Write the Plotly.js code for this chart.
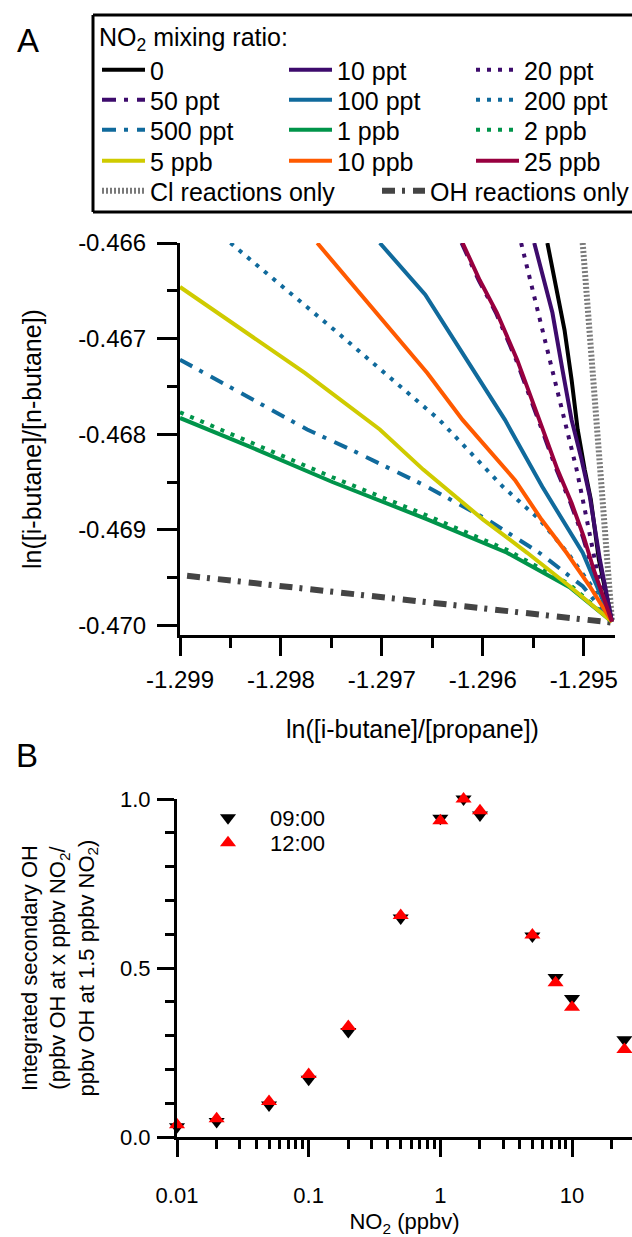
<!DOCTYPE html>
<html>
<head>
<meta charset="utf-8">
<script src="https://cdn.plot.ly/plotly-3.0.1.min.js"></script>
<style>
  html, body { margin: 0; padding: 0; background: #fff; overflow: hidden; }
  #chart { width: 632px; height: 1237px; }
</style>
</head>
<body>
<div id="chart"></div>
<script>
// ---------- Panel A: model runs at different NO2 mixing ratios ----------
// ln([i-butane]/[propane]) (x) and ln([i-butane]/[n-butane]) (y)
const x_0ppt   = [-1.29536, -1.29527, -1.29519, -1.29512, -1.29506, -1.29499, -1.29493, -1.29485, -1.29472];
const y_0ppt   = [-0.46600, -0.46649, -0.46691, -0.46743, -0.46795, -0.46837, -0.46868, -0.46931, -0.46996];
const x_10ppt  = [-1.29549, -1.29539, -1.29531, -1.29521, -1.29512, -1.29502, -1.29494, -1.29484, -1.29472];
const y_10ppt  = [-0.46600, -0.46639, -0.46673, -0.46733, -0.46785, -0.46827, -0.46865, -0.46931, -0.46996];
const x_20ppt  = [-1.29562, -1.29541, -1.29519, -1.29507, -1.29497, -1.29487, -1.29472];
const y_20ppt  = [-0.46600, -0.46691, -0.46785, -0.46837, -0.46889, -0.46942, -0.46996];
const x_50ppt  = [-1.29621, -1.29604, -1.29587, -1.29567, -1.29545, -1.29527, -1.29513, -1.29501, -1.29491, -1.29481, -1.29472];
const y_50ppt  = [-0.46600, -0.46639, -0.46673, -0.46722, -0.46785, -0.46837, -0.46872, -0.46907, -0.46942, -0.46973, -0.46996];
const x_100ppt = [-1.29702, -1.29657, -1.29578, -1.29541, -1.29501, -1.29486, -1.29472];
const y_100ppt = [-0.46600, -0.46654, -0.46785, -0.46855, -0.46924, -0.46962, -0.46996];
const x_200ppt = [-1.29850, -1.29747, -1.29643, -1.29580, -1.29544, -1.29516, -1.29492, -1.29472];
const y_200ppt = [-0.46600, -0.46691, -0.46785, -0.46855, -0.46889, -0.46924, -0.46959, -0.46996];
const x_500ppt = [-1.29900, -1.29774, -1.29725, -1.29655, -1.29596, -1.29544, -1.29501, -1.29472];
const y_500ppt = [-0.46722, -0.46795, -0.46819, -0.46855, -0.46889, -0.46924, -0.46959, -0.46996];
const x_1ppb   = [-1.29900, -1.29831, -1.29749, -1.29655, -1.29576, -1.29514, -1.29472];
const y_1ppb   = [-0.46783, -0.46813, -0.46850, -0.46889, -0.46924, -0.46960, -0.46996];
const x_2ppb   = [-1.29900, -1.29831, -1.29749, -1.29655, -1.29576, -1.29514, -1.29472];
const y_2ppb   = [-0.46777, -0.46808, -0.46845, -0.46885, -0.46921, -0.46957, -0.46996];
const x_5ppb   = [-1.29900, -1.29776, -1.29702, -1.29659, -1.29600, -1.29556, -1.29514, -1.29491, -1.29472];
const y_5ppb   = [-0.46646, -0.46736, -0.46795, -0.46837, -0.46889, -0.46924, -0.46959, -0.46980, -0.46996];
const x_10ppb  = [-1.29764, -1.29719, -1.29655, -1.29620, -1.29568, -1.29542, -1.29517, -1.29494, -1.29472];
const y_10ppb  = [-0.46600, -0.46656, -0.46736, -0.46785, -0.46848, -0.46889, -0.46924, -0.46959, -0.46996];
const x_25ppb  = [-1.29620, -1.29603, -1.29586, -1.29566, -1.29544, -1.29526, -1.29512, -1.29500, -1.29490, -1.29480, -1.29472];
const y_25ppb  = [-0.46600, -0.46639, -0.46673, -0.46722, -0.46785, -0.46837, -0.46872, -0.46907, -0.46942, -0.46973, -0.46996];
const x_clOnly = [-1.29501, -1.29486, -1.29472];
const y_clOnly = [-0.46600, -0.46795, -0.46996];
const x_ohOnly = [-1.29893, -1.29665, -1.29472];
const y_ohOnly = [-0.46948, -0.46975, -0.46997];

const tickA_x_vals = [-1.299, -1.298, -1.297, -1.296, -1.295];
const tickA_x_text = ['-1.299', '-1.298', '-1.297', '-1.296', '-1.295'];
const tickA_y_vals = [-0.466, -0.467, -0.468, -0.469, -0.470];
const tickA_y_text = ['-0.466', '-0.467', '-0.468', '-0.469', '-0.470'];

// ---------- Panel B: integrated secondary OH vs NO2 ----------
const no2_ppbv = [0.01, 0.02, 0.05, 0.1, 0.2, 0.5, 1, 1.5, 2, 5, 7.5, 10, 25];
const oh_0900  = [0.030, 0.046, 0.095, 0.171, 0.312, 0.648, 0.943, 1.000, 0.953, 0.595, 0.472, 0.410, 0.288];
const oh_1200  = [0.036, 0.054, 0.105, 0.185, 0.327, 0.655, 0.936, 1.000, 0.965, 0.598, 0.456, 0.384, 0.259];

const tickB_x_vals = [0.01, 0.1, 1, 10];
const tickB_x_text = ['0.01', '0.1', '1', '10'];
const tickB_y_vals = [0, 0.5, 1];
const tickB_y_text = ['0.0', '0.5', '1.0'];

// ---------- helpers ----------
const W = 632, H = 1237;
const fx = p => p / W;        // pixel column -> paper fraction
const fy = p => 1 - p / H;    // pixel row -> paper fraction
const FONT = 'Arial, "Liberation Sans", sans-serif';

const PURPLE = '#3d0b6c', BLUE = '#106a9c', GREEN = '#00944a',
      YELLOW = '#cfcb00', ORANGE = '#ff5a00', MAROON = '#98003f';
const DOT = '4px,7px', DASHDOT = '14px,8px,4px,9px';

// key layout: entries sit on a 187 px grid; the last entry of a row is kept
// narrow so the row never runs past the page edge
const COL = 129, LAST = 100;

// drawing order: reference cases underneath, then the NO2 runs
const runs = [
  {name: 'Cl reactions only', x: x_clOnly, y: y_clOnly, color: '#7a7a7a', width: 6, dash: '2px,2px', legend: 'legend5', lw: 222},
  {name: 'OH reactions only', x: x_ohOnly, y: y_ohOnly, color: '#444444', width: 6, dash: '13px,7px,3px,8px', legend: 'legend5', lw: 198},
  {name: '0',       x: x_0ppt,   y: y_0ppt,   color: '#000000', width: 4, dash: 'solid', legend: 'legend',  lw: COL},
  {name: '10 ppt',  x: x_10ppt,  y: y_10ppt,  color: PURPLE, width: 4, dash: 'solid', legend: 'legend',  lw: COL},
  {name: '20 ppt',  x: x_20ppt,  y: y_20ppt,  color: PURPLE, width: 4, dash: DOT,     legend: 'legend',  lw: LAST},
  {name: '50 ppt',  x: x_50ppt,  y: y_50ppt,  color: PURPLE, width: 4, dash: DASHDOT, legend: 'legend2', lw: COL},
  {name: '100 ppt', x: x_100ppt, y: y_100ppt, color: BLUE,   width: 4, dash: 'solid', legend: 'legend2', lw: COL},
  {name: '200 ppt', x: x_200ppt, y: y_200ppt, color: BLUE,   width: 4, dash: DOT,     legend: 'legend2', lw: LAST},
  {name: '500 ppt', x: x_500ppt, y: y_500ppt, color: BLUE,   width: 4, dash: DASHDOT, legend: 'legend3', lw: COL},
  {name: '1 ppb',   x: x_1ppb,   y: y_1ppb,   color: GREEN,  width: 4, dash: 'solid', legend: 'legend3', lw: COL},
  {name: '2 ppb',   x: x_2ppb,   y: y_2ppb,   color: GREEN,  width: 4, dash: DOT,     legend: 'legend3', lw: LAST},
  {name: '5 ppb',   x: x_5ppb,   y: y_5ppb,   color: YELLOW, width: 4, dash: 'solid', legend: 'legend4', lw: COL},
  {name: '10 ppb',  x: x_10ppb,  y: y_10ppb,  color: ORANGE, width: 4, dash: 'solid', legend: 'legend4', lw: COL},
  {name: '25 ppb',  x: x_25ppb,  y: y_25ppb,  color: MAROON, width: 4, dash: 'solid', legend: 'legend4', lw: LAST}
];

const data = runs.map(r => ({
  type: 'scatter', mode: 'lines', name: r.name, x: r.x, y: r.y,
  xaxis: 'x', yaxis: 'y', legend: r.legend, legendwidth: r.lw,
  line: {color: r.color, width: r.width, dash: r.dash}
}));

data.push({
  type: 'scatter', mode: 'markers', name: '09:00', x: no2_ppbv, y: oh_0900,
  xaxis: 'x2', yaxis: 'y2', legend: 'legend6', cliponaxis: false,
  marker: {symbol: 'triangle-down', size: 14, color: '#000000', line: {width: 0}}
});
data.push({
  type: 'scatter', mode: 'markers', name: '12:00', x: no2_ppbv, y: oh_1200,
  xaxis: 'x2', yaxis: 'y2', legend: 'legend7', cliponaxis: false,
  marker: {symbol: 'triangle-up', size: 14, color: '#ff0000', line: {width: 0}}
});

const baseAxis = {
  showline: true, linecolor: '#000', linewidth: 3, mirror: false,
  ticks: 'outside', tickcolor: '#000', tickwidth: 3,
  showgrid: false, zeroline: false, tickmode: 'array', fixedrange: true
};

function rowLegend(left, top, itemW, size) {
  return {
    orientation: 'h', x: fx(left), y: fy(top), xanchor: 'left', yanchor: 'top',
    entrywidthmode: 'pixels', itemwidth: itemW,
    font: {family: FONT, size: size, color: '#000'},
    bgcolor: 'rgba(0,0,0,0)', bordercolor: 'rgba(0,0,0,0)', borderwidth: 0,
    traceorder: 'normal', tracegroupgap: 0,
    itemclick: false, itemdoubleclick: false
  };
}

// frame around the panel A key: top, left and bottom edges (the right side runs off the page)
const frameLine = (x0, y0, x1, y1) => ({
  type: 'line', xref: 'paper', yref: 'paper',
  x0: fx(x0), y0: fy(y0), x1: fx(x1), y1: fy(y1),
  line: {color: '#000', width: 3}
});

const layout = {
  width: W, height: H,
  margin: {l: 0, r: 0, t: 0, b: 0, autoexpand: false},
  paper_bgcolor: '#fff', plot_bgcolor: '#fff',
  font: {family: FONT, color: '#000'},
  showlegend: true,

  xaxis: Object.assign({}, baseAxis, {
    domain: [fx(180), fx(615)], range: [-1.299, -1.29469], anchor: 'y',
    tickvals: tickA_x_vals, ticktext: tickA_x_text, ticklen: 18, ticklabelstandoff: 3,
    tickfont: {family: FONT, size: 24, color: '#000'},
    minor: {tickmode: 'linear', tick0: -1.299, dtick: 0.0005, ticks: 'outside', ticklen: 10, tickwidth: 3, tickcolor: '#000'}
  }),
  yaxis: Object.assign({}, baseAxis, {
    domain: [fy(635), fy(243)], range: [-0.4701, -0.466], anchor: 'x',
    tickvals: tickA_y_vals, ticktext: tickA_y_text, ticklen: 20, ticklabelstandoff: 6,
    tickfont: {family: FONT, size: 24, color: '#000'},
    minor: {tickmode: 'linear', tick0: -0.466, dtick: 0.0005, ticks: 'outside', ticklen: 10, tickwidth: 3, tickcolor: '#000'},
    title: {text: 'ln([i-butane]/[n-butane])', font: {family: FONT, size: 25, color: '#000'}, standoff: 30}
  }),
  xaxis2: Object.assign({}, baseAxis, {
    type: 'log', domain: [fx(177), 1], range: [-2, 1.4556], anchor: 'y2',
    tickvals: tickB_x_vals, ticktext: tickB_x_text, ticklen: 17, ticklabelstandoff: 20,
    tickfont: {family: FONT, size: 22, color: '#000'},
    minor: {tickmode: 'linear', dtick: 'D1', ticks: 'outside', ticklen: 9, tickwidth: 3, tickcolor: '#000'},
    title: {text: 'NO<sub>2</sub> (ppbv)', font: {family: FONT, size: 22, color: '#000'}, standoff: 19}
  }),
  yaxis2: Object.assign({}, baseAxis, {
    domain: [fy(1137), fy(799)], range: [0, 1], anchor: 'x2',
    tickvals: tickB_y_vals, ticktext: tickB_y_text, ticklen: 17, ticklabelstandoff: 2,
    tickfont: {family: FONT, size: 22, color: '#000'},
    minor: {tickmode: 'linear', tick0: 0, dtick: 0.1, ticks: 'outside', ticklen: 9, tickwidth: 3, tickcolor: '#000'},
    title: {
      text: 'Integrated secondary OH<br>(ppbv OH at x ppbv NO<sub>2</sub>/<br>ppbv OH at 1.5 ppbv NO<sub>2</sub>)',
      font: {family: FONT, size: 22, color: '#000'}, standoff: 20
    }
  }),

  legend:  rowLegend(97, 47, 43, 25),
  legend2: rowLegend(97, 77, 43, 25),
  legend3: rowLegend(97, 107, 43, 25),
  legend4: rowLegend(97, 138, 43, 25),
  legend5: rowLegend(97, 168, 43, 25),
  legend6: Object.assign(rowLegend(186, 797, 74, 22), {entrywidth: 80}),
  legend7: Object.assign(rowLegend(186, 822, 74, 22), {entrywidth: 80}),

  shapes: [
    frameLine(93, 15, 660, 15),
    frameLine(93, 15, 93, 212),
    frameLine(93, 212, 660, 212)
  ],

  annotations: [
    {text: 'A', xref: 'paper', yref: 'paper', x: fx(28), y: fy(40), xanchor: 'center', yanchor: 'middle',
     showarrow: false, font: {family: FONT, size: 33, color: '#000'}},
    {text: 'B', xref: 'paper', yref: 'paper', x: fx(27), y: fy(755), xanchor: 'center', yanchor: 'middle',
     showarrow: false, font: {family: FONT, size: 33, color: '#000'}},
    {text: 'NO<sub>2</sub> mixing ratio:', xref: 'paper', yref: 'paper', x: fx(97), y: fy(39),
     xanchor: 'left', yanchor: 'middle', showarrow: false, font: {family: FONT, size: 25, color: '#000'}},
    {text: 'ln([i-butane]/[propane])', xref: 'paper', yref: 'paper', x: fx(412), y: fy(729),
     xanchor: 'center', yanchor: 'middle', showarrow: false, font: {family: FONT, size: 25, color: '#000'}}
  ]
};

Plotly.newPlot('chart', data, layout, {staticPlot: true, displayModeBar: false});
</script>
</body>
</html>
